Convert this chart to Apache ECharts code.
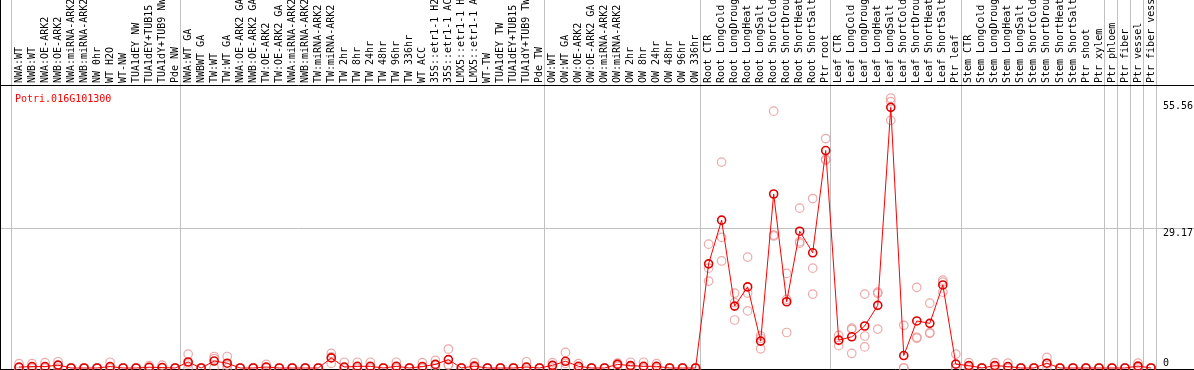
<!DOCTYPE html>
<html>
<head>
<meta charset="utf-8">
<script src="https://cdn.jsdelivr.net/npm/echarts@6/dist/echarts.min.js"></script>
<style>
  html, body { margin: 0; padding: 0; background: #fff; }
  #chart { width: 1194px; height: 370px; }
</style>
</head>
<body>
<div id="chart"></div>
<script>
const geneId = "Potri.016G101300";

const categories = [
  "NWA:WT", "NWB:WT", "NWA:OE-ARK2", "NWB:OE-ARK2", "NWA:miRNA-ARK2", "NWB:miRNA-ARK2",
  "NW 0hr", "WT H2O", "WT-NW", "TUA1dEY NW", "TUA1dEY+TUB15 NW", "TUA1dY+TUB9 NW", "Pde NW",
  "NWA:WT GA", "NWBWT GA", "TW:WT", "TW:WT GA", "NWA:OE-ARK2 GA", "NWB:OE-ARK2 GA",
  "TW:OE-ARK2", "TW:OE-ARK2 GA", "NWA:miRNA-ARK2 GA", "NWB:miRNA-ARK2 GA", "TW:miRNA-ARK2",
  "TW:miRNA-ARK2 GA", "TW 2hr", "TW 8hr", "TW 24hr", "TW 48hr", "TW 96hr", "TW 336hr", "WT ACC",
  "35S::etr1-1 H2O", "35S::etr1-1 ACC", "LMX5::etr1-1 H2O", "LMX5::etr1-1 ACC", "WT-TW",
  "TUA1dEY TW", "TUA1dEY+TUB15 TW", "TUA1dY+TUB9 TW", "Pde TW",
  "OW:WT", "OW:WT GA", "OW:OE-ARK2", "OW:OE-ARK2 GA", "OW:miRNA-ARK2", "OW:miRNA-ARK2 GA",
  "OW 2hr", "OW 8hr", "OW 24hr", "OW 48hr", "OW 96hr", "OW 336hr",
  "Root CTR", "Root LongCold", "Root LongDrought", "Root LongHeat", "Root LongSalt",
  "Root ShortCold", "Root ShortDrought", "Root ShortHeat", "Root ShortSalt", "Ptr root",
  "Leaf CTR", "Leaf LongCold", "Leaf LongDrought", "Leaf LongHeat", "Leaf LongSalt",
  "Leaf ShortCold", "Leaf ShortDrought", "Leaf ShortHeat", "Leaf ShortSalt", "Ptr leaf",
  "Stem CTR", "Stem LongCold", "Stem LongDrought", "Stem LongHeat", "Stem LongSalt",
  "Stem ShortCold", "Stem ShortDrought", "Stem ShortHeat", "Stem ShortSalt", "Ptr shoot", "Ptr xylem",
  "Ptr phloem", "Ptr fiber", "Ptr vessel", "Ptr fiber vessel"
];

// first category index of each sample group (gray separators)
const groupStarts = [0, 13, 41, 53, 63, 73, 84, 85, 86, 87];

const meanExpr = [
  0.2, 0.3, 0.3, 0.6, 0, 0, 0, 0.3, 0, 0, 0.15, 0.1, 0,
  1.25, 0, 1.45, 1.0, 0, 0, 0.2, 0, 0, 0, 0, 2.1, 0.2, 0.35, 0.35, 0, 0.35, 0, 0.3, 0.75, 1.75, 0, 0.4, 0, 0, 0, 0.2, 0,
  0.55, 1.4, 0.35, 0, 0, 0.75, 0.5, 0.35, 0.35, 0, 0, 0,
  21.7, 30.8, 12.9, 16.9, 5.6, 36.25, 13.8, 28.5, 24.0, 45.3,
  5.8, 6.5, 8.75, 13.05, 54.3, 2.6, 9.8, 9.3, 17.3, 0.8,
  0.5, 0, 0.5, 0.3, 0, 0, 1.0, 0, 0, 0, 0,
  0, 0, 0.4, 0
];

const rep1 = [
  0.9, 0.9, 1.1, 1.3, 0, 0, 0, 1.2, 0, 0, 0.5, 0.6, 0,
  2.9, 0, 2.4, 2.4, 0, 0, 0.75, 0, 0, 0, 0, 3.05, 1.2, 1.2, 1.2, 0, 1.2, 0, 1.1, 1.6, 3.95, 0, 1.15, 0, 0, 0, 1.3, 0,
  1.1, 3.25, 0.9, 0, 0, 1.0, 1.2, 1.2, 0.9, 0, 0, 0,
  25.8, 42.9, 15.6, 23.1, 6.7, 53.5, 19.7, 33.3, 35.3, 47.8,
  6.8, 8.3, 15.4, 15.8, 56.2, 8.9, 16.8, 13.5, 18.3, 2.9,
  1.1, 0, 1.1, 1.0, 0, 0, 2.2, 0, 0, 0, 0,
  0, 0, 1.0, 0
];

const rep2 = [
  0, 0, 0, 0.5, 0, 0, 0, 0, 0, 0, 0, 0, 0,
  0.85, 0, 1.95, 0.6, 0, 0, 0, 0, 0, 0, 0, 2.3, 0, 0, 0, 0, 0, 0, 0, 0.6, 0.6, 0, 0, 0, 0, 0, 0, 0,
  0.5, 0.95, 0, 0, 0, 0.9, 0.3, 0, 0, 0, 0, 0,
  20.8, 27.2, 13.6, 15.6, 6.2, 27.7, 14.3, 26.3, 20.8, 43.5,
  5.7, 8.05, 6.67, 15.55, 55.5, 0, 6.4, 7.4, 17.9, 0,
  0.4, 0, 0.4, 0, 0, 0, 0.8, 0, 0, 0, 0,
  0, 0, 0.2, 0
];

const rep3 = [
  0, 0, 0, 0, 0, 0, 0, 0, 0, 0, 0, 0, 0,
  0, 0, 0, 0, 0, 0, 0, 0, 0, 0, 0, 0.95, 0, 0, 0, 0, 0, 0, 0, 0, 0.7, 0, 0, 0, 0, 0, 0, 0,
  0, 0, 0, 0, 0, 0.35, 0, 0, 0, 0, 0, 0,
  18.1, 22.3, 10.0, 11.9, 4.0, 27.5, 7.4, 26.0, 15.4, 43.3,
  4.65, 3.06, 4.4, 8.1, 51.6, 0, 6.2, 7.2, 15.8, 0,
  0, 0, 0, 0, 0, 0, 0, 0, 0, 0, 0,
  0, 0, 0, 0
];

const yMax = 58.33;
const yTickLabels = [0, 29.17, 55.56];

const MONO = "'DejaVu Sans Mono', 'Liberation Mono', monospace";
const RED = "#ff0000";
const PINK = "#e89393";
const GRAY = "#c0c0c0";

const chart = echarts.init(document.getElementById("chart"), null, { renderer: "canvas" });

const repSeries = [rep1, rep2, rep3].map(r => ({
  type: "scatter",
  xAxisIndex: 0, yAxisIndex: 0,
  data: r,
  symbol: "circle",
  symbolSize: 8.5,
  clip: false,
  silent: true,
  z: 3,
  itemStyle: { color: "transparent", borderColor: PINK, borderWidth: 1.2 },
}));

const noBox = { outerBoundsMode: "none", containLabel: false };
const lineOnly = (extra) => Object.assign({
  min: 0, max: 1,
  axisLine: { show: true, onZero: false, lineStyle: { color: "#000", width: 1 } },
  axisTick: { show: false }, axisLabel: { show: false }, splitLine: { show: false },
}, extra);

chart.setOption({
  animation: false,
  backgroundColor: "#fff",
  title: {
    text: geneId, left: 10, top: 89,
    textStyle: { color: RED, fontSize: 10, fontWeight: "normal", fontFamily: MONO },
  },
  grid: [
    // data area
    { left: 12.5, right: 36.5, top: 88, bottom: 2, ...noBox },
    // full-width horizontal gridline
    { left: 0, right: 0, top: 88, bottom: 2, ...noBox },
    // group separators, full height
    { left: 11, right: 38, top: 0, bottom: 0, ...noBox },
    // left frame line, full height
    { left: 0.5, right: 0, top: 0, bottom: 0, ...noBox },
    // label divider + bottom line
    { left: 0, right: 0, top: 85.5, bottom: 0.5, ...noBox },
  ],
  xAxis: [
    {
      gridIndex: 0, type: "category", data: categories, position: "top", boundaryGap: true,
      axisLine: { show: false }, axisTick: { show: false }, splitLine: { show: false },
      axisLabel: {
        interval: 0, rotate: 90, margin: 5, color: "#000",
        fontSize: 10, fontFamily: MONO, hideOverlap: false,
      },
    },
    { gridIndex: 1, type: "value", show: false },
    {
      gridIndex: 2, type: "category", data: categories, boundaryGap: true,
      axisLine: { show: false }, axisTick: { show: false }, axisLabel: { show: false },
      splitLine: {
        show: true,
        interval: (idx) => groupStarts.includes(idx),
        lineStyle: { color: GRAY, width: 1 },
      },
    },
    { gridIndex: 3, type: "value", show: false },
    lineOnly({ gridIndex: 4, type: "value", position: "top" }),
    lineOnly({ gridIndex: 4, type: "value", position: "bottom" }),
  ],
  yAxis: [
    {
      gridIndex: 0, type: "value", min: 0, max: yMax, position: "right",
      axisLine: { show: false }, axisTick: { show: false }, splitLine: { show: false },
      axisLabel: {
        customValues: yTickLabels,
        margin: 5.5, color: "#000", fontSize: 10, fontFamily: MONO,
        verticalAlign: "top", verticalAlignMinLabel: "bottom",
        formatter: v => String(v),
      },
    },
    {
      gridIndex: 1, type: "value", min: 0, max: yMax, interval: yMax / 2,
      axisLine: { show: false }, axisTick: { show: false }, axisLabel: { show: false },
      splitLine: { show: true, showMinLine: false, showMaxLine: false, lineStyle: { color: GRAY, width: 1 } },
    },
    { gridIndex: 2, type: "value", show: false },
    lineOnly({ gridIndex: 3, type: "value", position: "left" }),
    { gridIndex: 4, type: "value", show: false, min: 0, max: 1 },
  ],
  series: [
    ...repSeries,
    {
      type: "line",
      xAxisIndex: 0, yAxisIndex: 0,
      data: meanExpr,
      clip: false,
      silent: true,
      z: 4,
      symbol: "circle",
      symbolSize: 8,
      showAllSymbol: true,
      lineStyle: { color: RED, width: 1 },
      itemStyle: { color: "transparent", borderColor: "#e00000", borderWidth: 1.6 },
    },
  ],
});
</script>
</body>
</html>
